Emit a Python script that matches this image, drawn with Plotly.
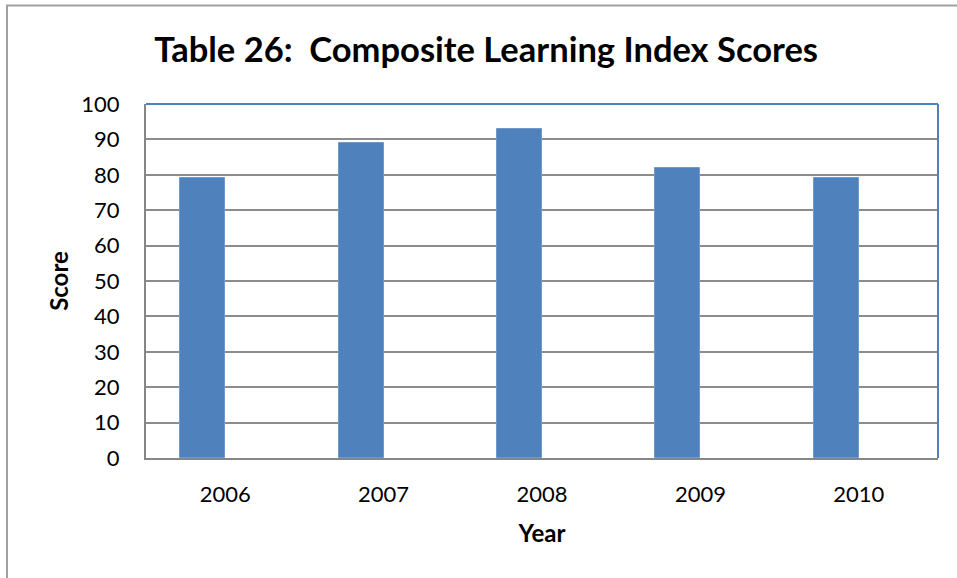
import plotly.graph_objects as go

years = ["2006", "2007", "2008", "2009", "2010"]
scores = [79, 89, 93, 82, 79]
y_ticks = [0, 10, 20, 30, 40, 50, 60, 70, 80, 90, 100]

W, H = 957, 578
L, R, T, B = 146, 938, 104, 458

fig = go.Figure()
fig.add_trace(go.Bar(
    x=years, y=scores, width=0.284, offset=-0.284,
    marker=dict(color="#4f81bd", line=dict(color="#6f98cc", width=1)),
    showlegend=False,
))

def px_x(p):
    return (p - L) / (R - L)

def px_y(p):
    return (B - p) / (B - T)

shapes = [
    # outer frame (left & top)
    dict(type="line", xref="paper", yref="paper", x0=px_x(7), x1=px_x(7), y0=px_y(5), y1=px_y(600),
         line=dict(color="#a0a0a0", width=2)),
    dict(type="line", xref="paper", yref="paper", x0=px_x(6), x1=px_x(990), y0=px_y(5.5), y1=px_y(5.5),
         line=dict(color="#a0a0a0", width=2)),
    # blue top & right of plot area
    dict(type="line", xref="paper", yref="paper", x0=0, x1=1, y0=1, y1=1,
         line=dict(color="#4f81bd", width=2)),
    dict(type="line", xref="paper", yref="paper", x0=1, x1=1, y0=0, y1=1,
         line=dict(color="#4f81bd", width=2)),
]

fig.update_layout(
    width=W, height=H,
    margin=dict(l=L, r=W - R, t=T, b=H - B),
    paper_bgcolor="white", plot_bgcolor="white",
    font=dict(family="Lato", color="black"),
    title=dict(text="<b>Table 26:  Composite Learning Index Scores</b>",
               x=0.508, xanchor="center", y=1 - 50 / H, yanchor="middle",
               font=dict(size=34.5, family="Lato", color="black")),
    bargap=0,
    shapes=shapes,
    xaxis=dict(
        type="category", categoryorder="array", categoryarray=years,
        showline=True, linecolor="#868686", linewidth=2,
        showgrid=False, ticks="", tickfont=dict(size=22),
        ticklabelstandoff=16,
        title=dict(text="<b>Year</b>", font=dict(size=24), standoff=19),
    ),
    yaxis=dict(
        range=[0, 100], tickvals=y_ticks, ticktext=[str(v) for v in y_ticks],
        showline=True, linecolor="#868686", linewidth=2,
        showgrid=True, gridcolor="#8c8c8c", gridwidth=1.5,
        zeroline=False, ticks="", tickfont=dict(size=22),
        ticklabelstandoff=20,
        title=dict(text="<b>Score</b>", font=dict(size=24), standoff=6),
    ),
)

fig.write_html("out.html", config={"displayModeBar": False},
               post_script="document.body.style.margin='0px';")
